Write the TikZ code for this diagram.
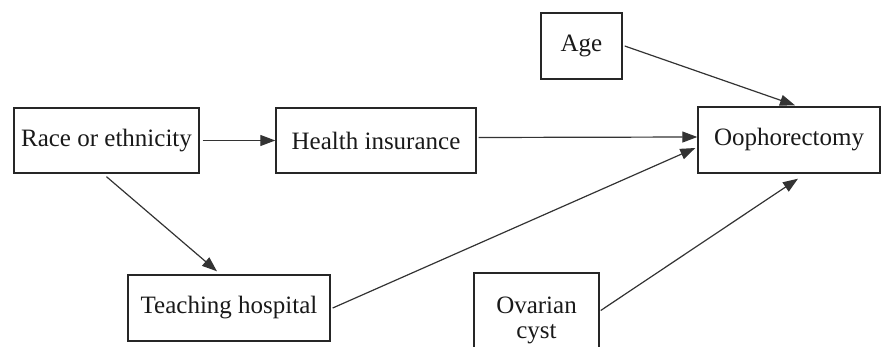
\documentclass[tikz,border=0pt]{standalone}
\usepackage{fontspec}
\setmainfont{Liberation Serif}
\usetikzlibrary{arrows.meta}
\begin{document}
\begin{tikzpicture}[x=1pt,y=-1pt,
  box/.style={draw=black!85,line width=1.4pt,inner sep=0pt,align=center,
    font=\fontsize{25}{25}\selectfont,text=black!90},
  conn/.style={draw=black!80,line width=1.2pt,-{Triangle[length=15pt,width=11pt]}}]
\useasboundingbox (0,0) rectangle (882,347);
\clip (0,0) rectangle (882,347);
\node[box,minimum width=185pt,minimum height=65pt] (race) at (106.5,140.5) {Race or ethnicity};
\node[box,minimum width=200pt,minimum height=65pt] (health) at (376,140.5) {Health insurance};
\node[box,minimum width=182pt,minimum height=66pt] (ooph) at (789,140) {Oophorectomy};
\node[box,minimum width=81pt,minimum height=66pt] (age) at (581.5,46) {Age};
\node[box,minimum width=202pt,minimum height=66pt] (teach) at (229,308) {Teaching hospital};
\node[box,minimum width=125pt,minimum height=95pt] (ovar) at (536.5,320.5) {Ovarian\\cyst};
\draw[conn] ([xshift=3pt]race.east) -- (health.west);
\draw[conn] ([xshift=2pt,yshift=3pt]health.east) -- ([yshift=3pt]ooph.west);
\draw[conn] ([xshift=2pt]teach.east) -- ([xshift=-2pt,yshift=-8pt]ooph.west);
\draw[conn] ([xshift=2pt]age.east) -- ([xshift=6pt,yshift=1pt]ooph.north);
\draw[conn] ([xshift=1pt,yshift=10pt]ovar.east) -- ([xshift=9pt,yshift=-5pt]ooph.south);
\draw[conn] ([yshift=-3pt]race.south) -- ([xshift=-12pt,yshift=3pt]teach.north);
\end{tikzpicture}
\end{document}
